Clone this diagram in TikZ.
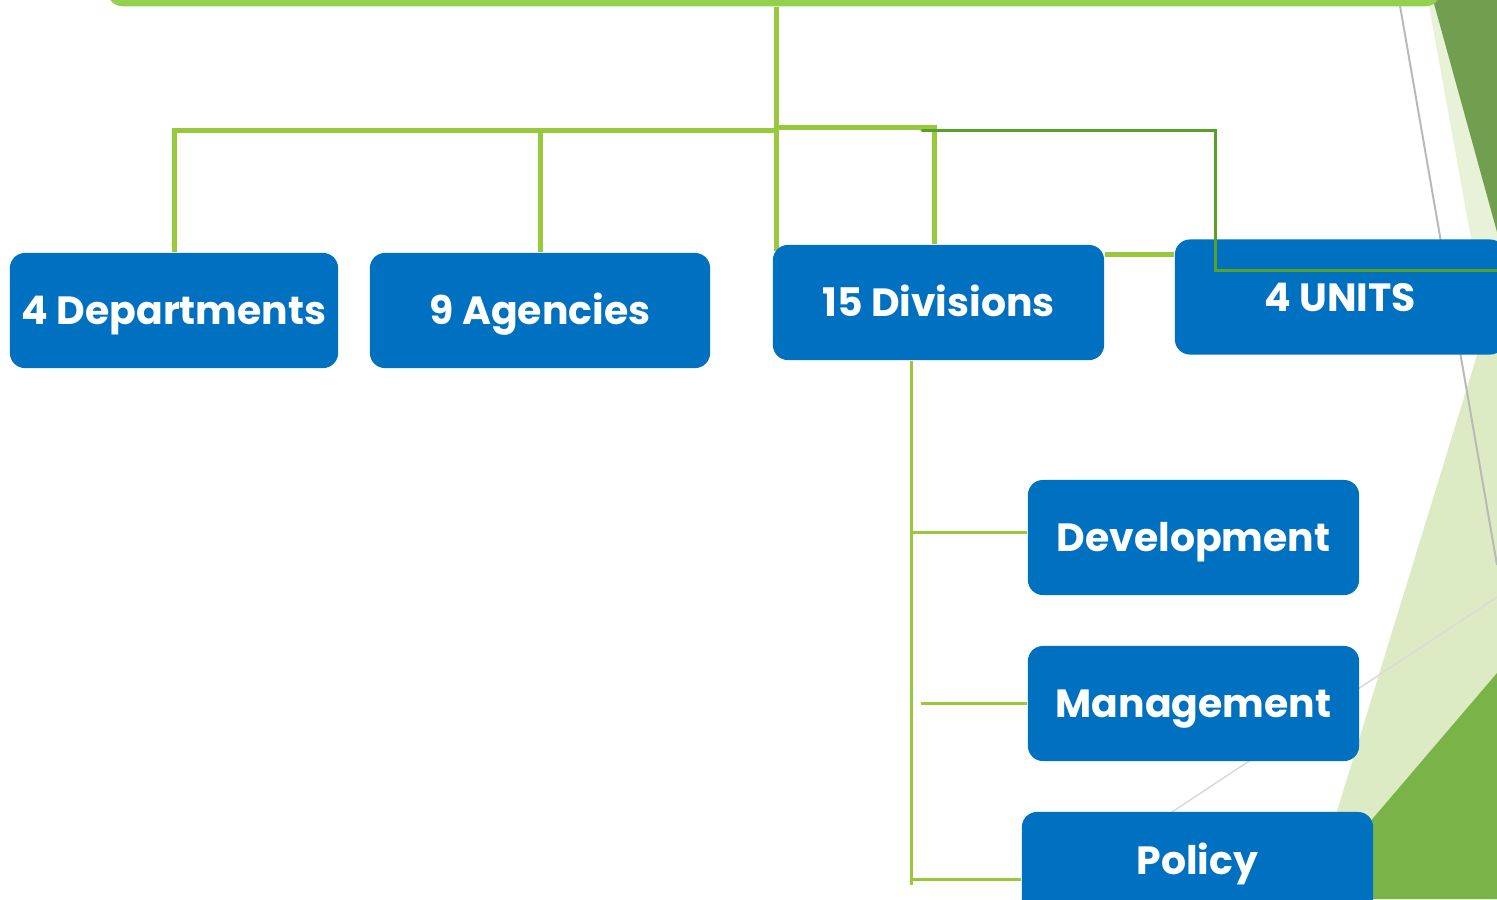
\documentclass[tikz,border=0pt]{standalone}
\usepackage{fontspec}
\setmainfont{Poppins}
\usetikzlibrary{backgrounds}
\definecolor{barGreen}{RGB}{146,208,80}
\definecolor{linkGreen}{RGB}{152,201,60}
\definecolor{darkLink}{RGB}{88,160,40}
\definecolor{boxBlue}{RGB}{0,112,192}
\definecolor{paleGreen}{RGB}{232,242,216}
\definecolor{lightGreen}{RGB}{221,235,196}
\definecolor{midGreen}{RGB}{122,180,72}
\definecolor{deepGreen}{RGB}{114,158,80}
\begin{document}
\begin{tikzpicture}[
  x=0.01cm, y=-0.01cm,
  box/.style={fill=boxBlue, draw=none, rounded corners=0.15cm, text=white,
    font=\fontsize{11.2}{14}\selectfont\bfseries, minimum height=1.15cm, inner sep=0pt,
    text height=0.28cm, text depth=0pt},
  rootbox/.style={fill=barGreen, draw=none, rounded corners=0.15cm},
  link/.style={draw=linkGreen, line width=0.05cm},
  sublink/.style={draw=linkGreen, line width=0.03cm},
  unitLink/.style={draw=darkLink, line width=0.03cm, line cap=round}]

\useasboundingbox (0,0) rectangle (1497,899);
\clip (0,0) rectangle (1497,899);

% Place the boxes
\node[rootbox, minimum width=13.32cm, minimum height=1cm, anchor=south] (root) at (774,7) {};
\node[box, minimum width=3.28cm] (departments) at (174,310.5) {4 Departments};
\node[box, minimum width=3.40cm] (agencies) at (540,310.5) {9 Agencies};
\node[box, minimum width=3.31cm] (divisions) at (938.5,302.5) {15 Divisions};
\node[box, minimum width=3.30cm] (units) at (1340,297) {4 UNITS};
\node[box, minimum width=3.31cm] (development) at (1193.5,537.5) {Development};
\node[box, minimum width=3.31cm] (management) at (1193.5,703.5) {Management};
\node[box, minimum width=3.51cm, text depth=0.19cm] (policy) at (1197.5,869.5) {Policy};

\coordinate (fork) at (776,130);
\coordinate (spine) at (911,885);
\coordinate (unitStart) at (922,130);
\coordinate (unitCorner) at (1215,270);
\coordinate (unitEnd) at (1497,270);

% Background shapes and the links go behind the boxes
\begin{pgfonlayer}{background}
  \clip (0,0) rectangle (1497,899);
  \fill[paleGreen] (1428,0) -- (1497,0) -- (1497,383) -- cycle;
  \fill[deepGreen] (1433,0) -- (1497,0) -- (1497,232) -- cycle;
  \fill[lightGreen] (1497,290) -- (1310,899) -- (1497,899) -- cycle;
  \fill[midGreen] (1497,673) -- (1304,899) -- (1497,899) -- cycle;
  \draw[gray!55, line width=0.02cm] (1399,0) -- (1497,565);
  \draw[gray!30, line width=0.015cm] (1497,597) -- (1172,812);

  \draw[link] (root.south -| fork) -- ([yshift=-0.07cm]divisions.north west -| fork);
  \draw[link] (departments.north) |- (fork);
  \draw[link] (agencies.north) -- (agencies.north |- fork);
  \draw[link] ([yshift=0.03cm]fork) -| ([xshift=-0.045cm]divisions.north);
  \draw[link] ([yshift=0.48cm]divisions.east) -- ([yshift=0.48cm]divisions.east -| units.west);
  \draw[sublink] (divisions.south -| spine) -- (spine);
  \draw[sublink] ([yshift=0.05cm]development.west) -- ([yshift=0.05cm]development.west -| spine);
  \draw[sublink] (management.west) -- ++(-1.06cm,0);
  \draw[sublink] ([yshift=-0.1cm]policy.west) -- ([yshift=-0.1cm]policy.west -| spine);
\end{pgfonlayer}

% The dark line to the units runs over their box
\draw[unitLink] (unitStart) -| (unitCorner) -- (unitEnd);
\end{tikzpicture}
\end{document}
